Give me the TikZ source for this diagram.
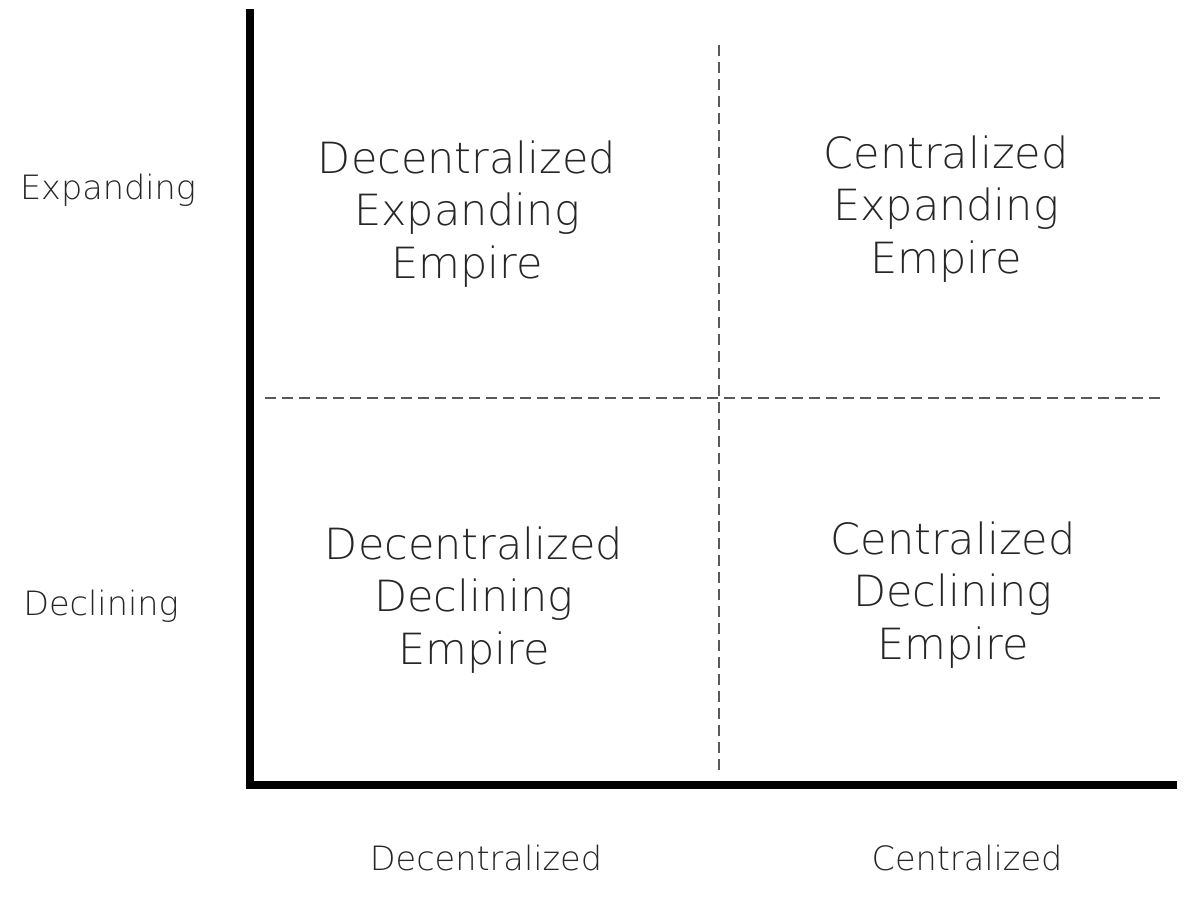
\documentclass[tikz,border=0pt]{standalone}
\usepackage{fontspec}
\IfFontExistsTF{DejaVu Sans ExtraLight}{\setmainfont{DejaVu Sans ExtraLight}}{\setmainfont{DejaVu Sans}}
\begin{document}
\begin{tikzpicture}[x=1pt,y=-1pt,
  axis/.style={line width=8pt,black},
  divider/.style={line width=2pt,color=black!65,dash pattern=on 11pt off 6pt},
  quad/.style={align=center,text=black!85,font=\fontsize{43}{52.5}\selectfont,inner sep=0pt},
  side/.style={text=black!85,font=\fontsize{33.5}{40}\selectfont,inner sep=0pt}]
\useasboundingbox (0,0) rectangle (1192,922);
% axes
\draw[axis] (249.5,9) -- (249.5,785) -- (1177,785);
% dividers
\draw[divider] (265,398) -- (1160,398);
\draw[divider] (719,45) -- (719,770);
% quadrant labels
\node[quad] (tl) at (467,214) {Decentralized\\Expanding\\Empire};
\node[quad] (tr) at (946,209) {Centralized\\Expanding\\Empire};
\node[quad] (bl) at (474,600) {Decentralized\\Declining\\Empire};
\node[quad] (br) at (953,595) {Centralized\\Declining\\Empire};
% axis labels
\node[side] (ye) at (108,190) {Expanding};
\node[side] (yd) at (101,606) {Declining};
\node[side] (xd) at (486,858) {Decentralized};
\node[side] (xc) at (967,858) {Centralized};
\end{tikzpicture}
\end{document}
